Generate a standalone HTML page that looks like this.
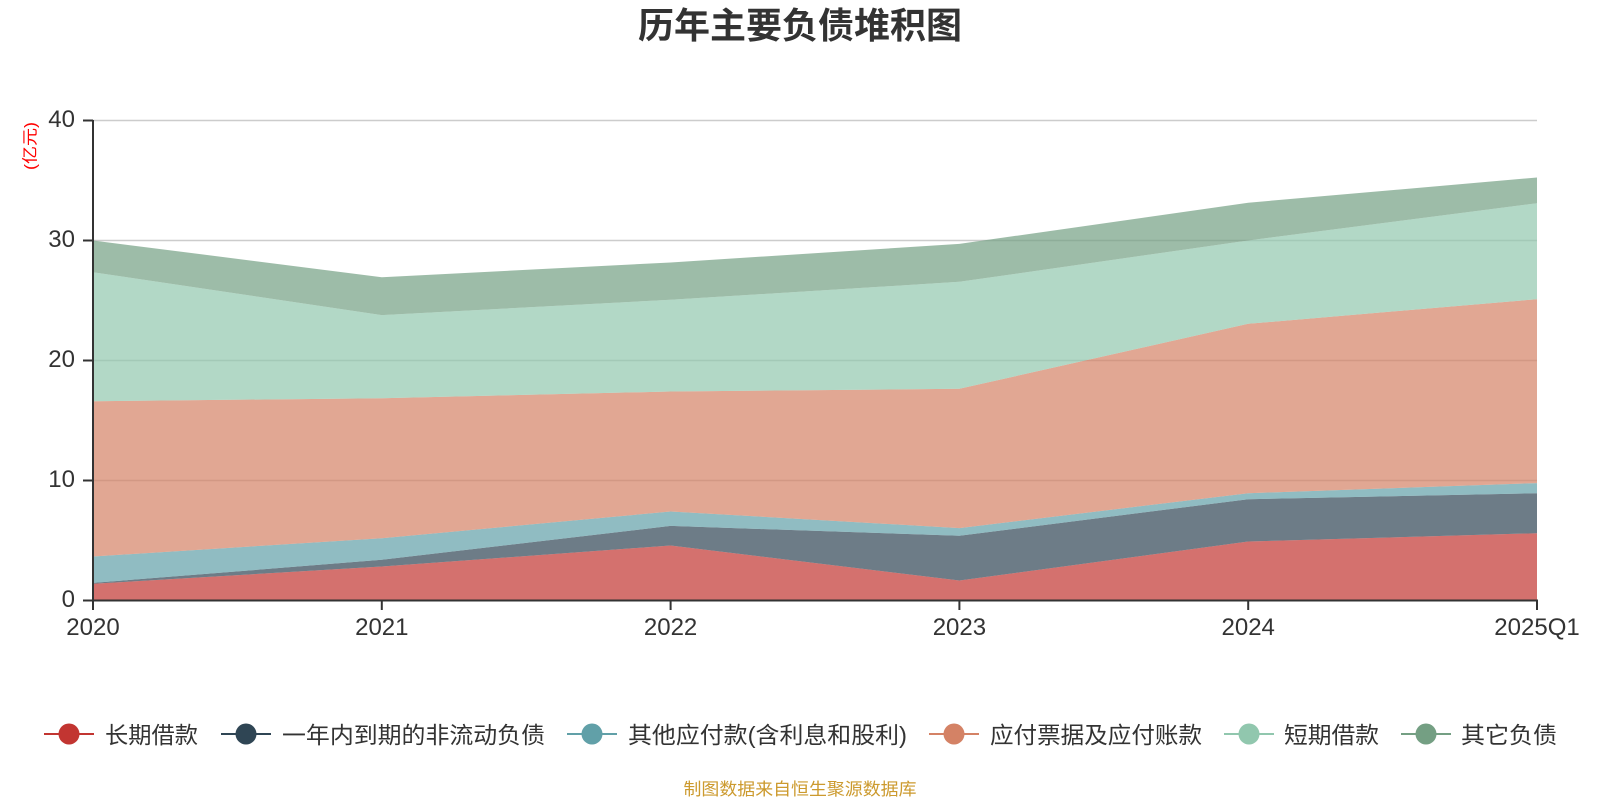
<!DOCTYPE html>
<html>
<head>
<meta charset="utf-8">
<style>
html,body{margin:0;padding:0;background:#fff;}
svg{display:block;}
text{font-family:"Liberation Sans","Noto Sans CJK SC",sans-serif;}
</style>
</head>
<body>
<svg width="1600" height="800" viewBox="0 0 1600 800" xmlns="http://www.w3.org/2000/svg">
  <rect width="1600" height="800" fill="#fff"/>
  <!-- title -->
  <text x="800" y="38" text-anchor="middle" font-size="36" font-weight="bold" fill="#333" textLength="324" lengthAdjust="spacingAndGlyphs">历年主要负债堆积图</text>

  <!-- gridlines -->
  <g stroke="#ccc" stroke-width="1.5">
    <line x1="93" y1="120.5" x2="1537" y2="120.5"/>
    <line x1="93" y1="240.5" x2="1537" y2="240.5"/>
    <line x1="93" y1="360.5" x2="1537" y2="360.5"/>
    <line x1="93" y1="480.5" x2="1537" y2="480.5"/>
  </g>

  <!-- stacked areas -->
  <g fill-opacity="0.7" stroke="none">
    <polygon fill="#c23531" points="93,583.8 381.8,566.5 670.6,545.5 959.4,580.5 1248.2,541.5 1537,533.2 1537,600.5 93,600.5"/>
    <polygon fill="#2f4554" points="93,582.9 381.8,559.8 670.6,525.9 959.4,535.8 1248.2,499.2 1537,493.2 1537,533.2 1248.2,541.5 959.4,580.5 670.6,545.5 381.8,566.5 93,583.8"/>
    <polygon fill="#61a0a8" points="93,556.5 381.8,538.2 670.6,511.5 959.4,528.1 1248.2,493.2 1537,483.1 1537,493.2 1248.2,499.2 959.4,535.8 670.6,525.9 381.8,559.8 93,582.9"/>
    <polygon fill="#d48265" points="93,401.3 381.8,398.2 670.6,391.5 959.4,388.8 1248.2,323.8 1537,299.2 1537,483.1 1248.2,493.2 959.4,528.1 670.6,511.5 381.8,538.2 93,556.5"/>
    <polygon fill="#91c7ae" points="93,272.2 381.8,315.1 670.6,299.8 959.4,281.8 1248.2,240.5 1537,203.2 1537,299.2 1248.2,323.8 959.4,388.8 670.6,391.5 381.8,398.2 93,401.3"/>
    <polygon fill="#749f83" points="93,240.5 381.8,277.2 670.6,262.5 959.4,243.9 1248.2,202.7 1537,177.5 1537,203.2 1248.2,240.5 959.4,281.8 670.6,299.8 381.8,315.1 93,272.2"/>
  </g>

  <!-- axes -->
  <g stroke="#333" stroke-width="2" fill="none">
    <line x1="93" y1="120" x2="93" y2="601"/>
    <line x1="92" y1="600.5" x2="1538" y2="600.5"/>
    <!-- y ticks -->
    <line x1="83" y1="120.5" x2="93" y2="120.5"/>
    <line x1="83" y1="240.5" x2="93" y2="240.5"/>
    <line x1="83" y1="360.5" x2="93" y2="360.5"/>
    <line x1="83" y1="480.5" x2="93" y2="480.5"/>
    <line x1="83" y1="600.5" x2="93" y2="600.5"/>
    <!-- x ticks -->
    <line x1="93" y1="600" x2="93" y2="610"/>
    <line x1="381.8" y1="600" x2="381.8" y2="610"/>
    <line x1="670.6" y1="600" x2="670.6" y2="610"/>
    <line x1="959.4" y1="600" x2="959.4" y2="610"/>
    <line x1="1248.2" y1="600" x2="1248.2" y2="610"/>
    <line x1="1537" y1="600" x2="1537" y2="610"/>
  </g>

  <!-- y labels -->
  <g font-size="24" fill="#333" text-anchor="end">
    <text x="75" y="127">40</text>
    <text x="75" y="247">30</text>
    <text x="75" y="367">20</text>
    <text x="75" y="487">10</text>
    <text x="75" y="607">0</text>
  </g>
  <!-- x labels -->
  <g font-size="24" fill="#333" text-anchor="middle">
    <text x="93" y="635">2020</text>
    <text x="381.8" y="635">2021</text>
    <text x="670.6" y="635">2022</text>
    <text x="959.4" y="635">2023</text>
    <text x="1248.2" y="635">2024</text>
    <text x="1537" y="635">2025Q1</text>
  </g>

  <!-- y axis unit -->
  <text transform="translate(31,146) rotate(-90)" text-anchor="middle" dominant-baseline="central" font-size="16" fill="#ff0000" textLength="48" lengthAdjust="spacingAndGlyphs">(亿元)</text>

  <!-- legend -->
  <g stroke-width="2">
    <line x1="44" y1="734" x2="94" y2="734" stroke="#c23531"/>
    <circle cx="69" cy="734" r="10.5" fill="#c23531"/>
    <line x1="221" y1="734" x2="271" y2="734" stroke="#2f4554"/>
    <circle cx="246" cy="734" r="10.5" fill="#2f4554"/>
    <line x1="567" y1="734" x2="617" y2="734" stroke="#61a0a8"/>
    <circle cx="592" cy="734" r="10.5" fill="#61a0a8"/>
    <line x1="929" y1="734" x2="979" y2="734" stroke="#d48265"/>
    <circle cx="954" cy="734" r="10.5" fill="#d48265"/>
    <line x1="1224" y1="734" x2="1274" y2="734" stroke="#91c7ae"/>
    <circle cx="1249" cy="734" r="10.5" fill="#91c7ae"/>
    <line x1="1401" y1="734" x2="1451" y2="734" stroke="#749f83"/>
    <circle cx="1426" cy="734" r="10.5" fill="#749f83"/>
  </g>
  <g font-size="23" fill="#333">
    <text x="105" y="743" textLength="93" lengthAdjust="spacingAndGlyphs">长期借款</text>
    <text x="282" y="743" textLength="263" lengthAdjust="spacingAndGlyphs">一年内到期的非流动负债</text>
    <text x="628" y="743" textLength="279" lengthAdjust="spacingAndGlyphs">其他应付款(含利息和股利)</text>
    <text x="990" y="743" textLength="212" lengthAdjust="spacingAndGlyphs">应付票据及应付账款</text>
    <text x="1284" y="743" textLength="95" lengthAdjust="spacingAndGlyphs">短期借款</text>
    <text x="1461" y="743" textLength="96" lengthAdjust="spacingAndGlyphs">其它负债</text>
  </g>

  <!-- source -->
  <text x="800" y="795" text-anchor="middle" font-size="17" fill="#cc9a2e" textLength="233" lengthAdjust="spacingAndGlyphs">制图数据来自恒生聚源数据库</text>
</svg>
</body>
</html>
